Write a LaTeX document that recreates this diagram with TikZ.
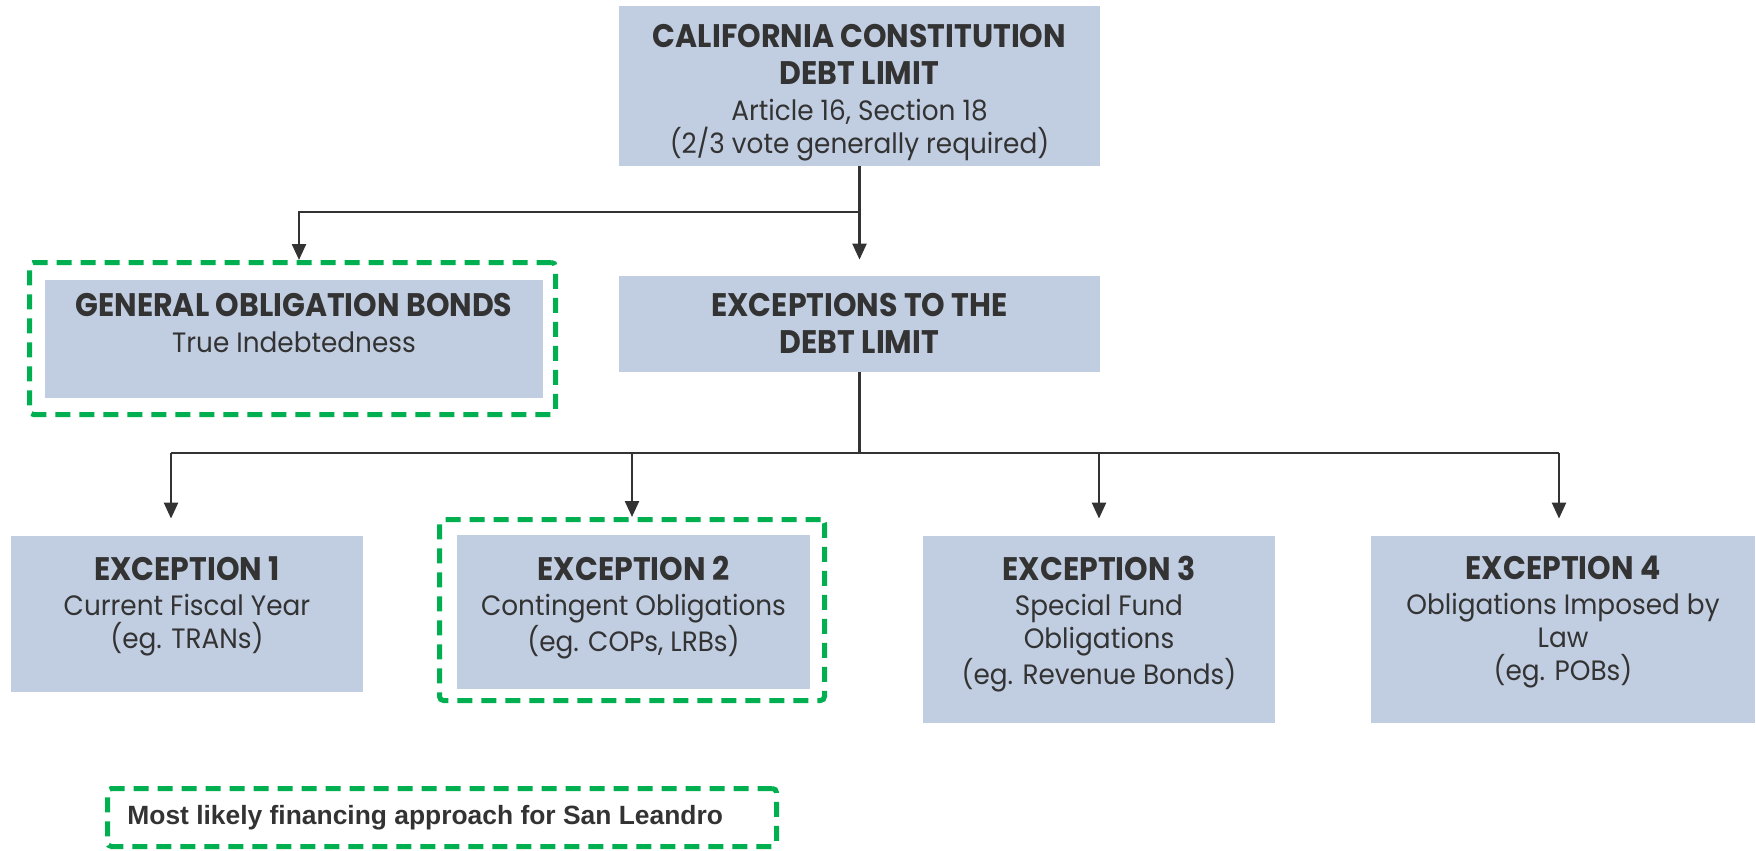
\documentclass[tikz,border=0pt]{standalone}
\usepackage{fontspec}
\usetikzlibrary{arrows.meta}
\newfontfamily\gothic{Poppins}[FakeStretch=0.94]
\newfontfamily\gothicb{Poppins}[FakeStretch=0.92]
\newfontfamily\legfont{Liberation Sans}
\definecolor{boxblue}{RGB}{193,205,225}
\definecolor{tc}{RGB}{51,51,51}
\definecolor{gdash}{RGB}{0,176,80}
\newcommand\hd[1]{{\gothicb\fontsize{16.3}{18}\selectfont\bfseries #1}}
\begin{document}
\begin{tikzpicture}[x=0.5pt,y=-0.5pt,
  box/.style={fill=boxblue, draw=none, inner sep=0pt},
  gbox/.style={draw=gdash, line width=2.5pt, dash pattern=on 7.5pt off 4.5pt, rounded corners=2pt, inner sep=0pt},
  txt/.style={text=tc, align=center, inner sep=0pt, anchor=north, font=\gothic\fontsize{14}{16.5}\selectfont},
  conn/.style={draw=tc, line width=1.2pt},
  arr/.style={conn, -{Triangle[length=8pt,width=7pt]}}]
\useasboundingbox (0,0) rectangle (1756,851);

% boxes
\node[box, minimum width=240.5pt, minimum height=80pt] (top) at (859.5,86) {};
\node[gbox, minimum width=263pt, minimum height=76pt] (godash) at (292.5,338.5) {};
\node[box, minimum width=249pt, minimum height=59pt] (go) at (294,339) {};
\node[box, minimum width=240.5pt, minimum height=48pt] (exc) at (859.5,324) {};
\node[box, minimum width=176pt, minimum height=78pt] (e1) at (187,614) {};
\node[gbox, minimum width=192.5pt, minimum height=90.5pt] (e2dash) at (632,610) {};
\node[box, minimum width=176.5pt, minimum height=77pt] (e2) at (633.5,612) {};
\node[box, minimum width=176pt, minimum height=93.5pt] (e3) at (1099,629.5) {};
\node[box, minimum width=192pt, minimum height=93.5pt] (e4) at (1563,629.5) {};
\node[gbox, minimum width=334.5pt, minimum height=29pt] (legend) at (442,817.5) {};

% texts
\node[txt] (toptext) at (859.5,24) {\hd{CALIFORNIA CONSTITUTION}\\[2pt]\hd{DEBT LIMIT}\\[1.5pt]Article 16, Section 18\\(2/3 vote generally required)};
\node[txt] (gotext) at (294,293) {\hd{GENERAL OBLIGATION BONDS}\\[1.5pt]True Indebtedness};
\node[txt] (exctext) at (859.5,293) {\hd{EXCEPTIONS TO THE}\\[2pt]\hd{DEBT LIMIT}};
\node[txt] (e1text) at (187,556) {\hd{EXCEPTION 1}\\[1pt]Current Fiscal Year\\(eg. TRANs)};
\node[txt] (e2text) at (633.5,556) {\hd{EXCEPTION 2}\\[1pt]Contingent Obligations\\(eg. COPs, LRBs)};
\node[txt] (e3text) at (1099,556) {\hd{EXCEPTION 3}\\[1pt]Special Fund\\Obligations\\(eg. Revenue Bonds)};
\node[txt] (e4text) at (1563,556) {\hd{EXCEPTION 4}\\[1pt]Obligations Imposed by\\Law\\(eg. POBs)};
\node[text=tc, anchor=west, inner sep=0pt, font=\legfont\bfseries\fontsize{13.2}{15}\selectfont] (legtext) at (127,817.5) {Most likely financing approach for San Leandro};

% connectors
\coordinate (j1) at (859.5,212);
\coordinate (j2) at (859.5,453);
\coordinate (b1) at (171,453);
\coordinate (b4) at (1559,453);
\draw[conn] (top.south) -- (j1);
\draw[arr] (j1) -| ([xshift=3.25pt]godash.north);
\draw[arr, shorten >=8pt] (j1) -- (exc.north);
\draw[conn] (exc.south) -- (j2);
\draw[conn] (b1) -- (b4);
\draw[arr, shorten >=8.5pt] (b1) -- (b1 |- e1.north);
\draw[arr] (e2dash.north |- j2) -- (e2dash.north);
\draw[arr, shorten >=8.5pt] (e3.north |- j2) -- (e3.north);
\draw[arr, shorten >=8.5pt] (b4) -- (b4 |- e4.north);
\end{tikzpicture}
\end{document}
